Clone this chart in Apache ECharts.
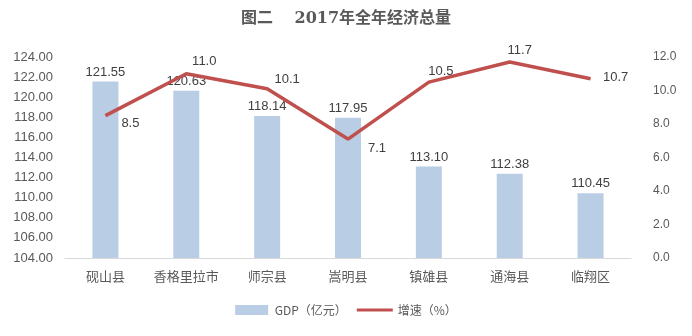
<!DOCTYPE html>
<html style="height: 100%">
<head>
<meta charset="utf-8">
</head>
<body style="height: 100%; margin: 0">
<div id="container" style="width: 692px; height: 336px"></div>
<script type="text/javascript" src="https://cdn.jsdelivr.net/npm/echarts@6/dist/echarts.min.js"></script>
<script type="text/javascript">
var counties = ['砚山县', '香格里拉市', '师宗县', '嵩明县', '镇雄县', '通海县', '临翔区'];
var gdp = [121.55, 120.63, 118.14, 117.95, 113.10, 112.38, 110.45];
var growth = [8.5, 11.0, 10.1, 7.1, 10.5, 11.7, 10.7];
// where each growth label sits relative to its point
var growthLabelOffsets = [[25, 8], [18, -12], [20, -9], [29, 9], [12, -11], [10, -12], [25, -1]];

var myChart = echarts.init(document.getElementById('container'));

var growthData = growth.map(function (v, i) {
    return {
        value: v,
        label: { offset: growthLabelOffsets[i] }
    };
});

var option = {
    backgroundColor: '#ffffff',
    animation: false,
    title: {
        text: '图二　 2017年全年经济总量',
        left: 'center',
        top: 6,
        textStyle: {
            fontSize: 16,
            fontWeight: 'bold',
            fontFamily: '"DejaVu Serif", "Noto Sans CJK SC", serif',
            color: '#595959'
        }
    },
    legend: {
        bottom: 15,
        left: 'center',
        itemGap: 10,
        itemWidth: 36,
        itemHeight: 10,
        textStyle: { fontSize: 12, color: '#595959', fontFamily: '"Noto Sans CJK SC"' },
        data: [
            { name: 'GDP（亿元）', icon: 'path://M0,0 L33,0 L33,10 L0,10 Z' },
            { name: '增速（%）', icon: 'path://M0,0 L36,0 L36,3 L0,3 Z' }
        ]
    },
    grid: {
        left: 65,
        right: 61,
        top: 57,
        bottom: 78,
        containLabel: false,
        outerBoundsMode: 'none'
    },
    xAxis: {
        type: 'category',
        data: counties,
        axisTick: { show: false },
        axisLine: { lineStyle: { color: '#D9D9D9' } },
        axisLabel: { color: '#595959', fontSize: 13, margin: 12, interval: 0, fontFamily: '"Noto Sans CJK SC"' }
    },
    yAxis: [{
        type: 'value',
        min: 104,
        max: 124,
        interval: 2,
        splitLine: { show: false },
        axisLine: { show: false },
        axisTick: { show: false },
        axisLabel: {
            color: '#595959',
            fontSize: 13,
            margin: 12,
            formatter: function (v) { return v.toFixed(2); }
        }
    }, {
        type: 'value',
        min: 0,
        max: 12,
        interval: 2,
        splitLine: { show: false },
        axisLine: { show: false },
        axisTick: { show: false },
        axisLabel: {
            color: '#595959',
            fontSize: 12,
            margin: 22,
            formatter: function (v) { return v.toFixed(1); }
        }
    }],
    series: [{
        name: 'GDP（亿元）',
        type: 'bar',
        data: gdp,
        barWidth: 26,
        itemStyle: { color: '#B9CDE5' },
        label: {
            show: true,
            position: 'top',
            distance: 3,
            color: '#404040',
            fontSize: 13,
            formatter: function (p) { return p.value.toFixed(2); }
        }
    }, {
        name: '增速（%）',
        type: 'line',
        yAxisIndex: 1,
        data: growthData,
        symbol: 'circle',
        symbolSize: 0.1,
        showSymbol: true,
        lineStyle: { color: '#C0504D', width: 3.5 },
        itemStyle: { color: '#C0504D' },
        label: {
            show: true,
            position: 'inside',
            color: '#404040',
            fontSize: 13,
            formatter: function (p) { return p.value.toFixed(1); }
        }
    }]
};

myChart.setOption(option);
</script>
</body>
</html>
